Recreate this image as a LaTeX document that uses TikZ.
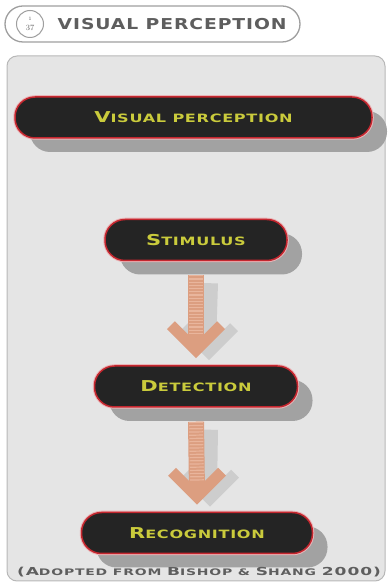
\documentclass[tikz,border=0pt]{standalone}
\usepackage{fontspec}
\usepackage{xcolor}
\usetikzlibrary{positioning,shadows}

\newfontfamily\widefont[FakeStretch=1.25,LetterSpace=6]{DejaVu Sans}
\newfontfamily\stagefont[FakeStretch=1.4,LetterSpace=6]{DejaVu Sans}
\newfontfamily\notefont[FakeStretch=1.55,LetterSpace=9]{DejaVu Sans}

\definecolor{boxred}{HTML}{C4262E}
\definecolor{boxfill}{HTML}{242424}
\definecolor{labelyellow}{HTML}{CACB3C}
\definecolor{panelgray}{HTML}{E5E5E5}
\definecolor{panelline}{HTML}{B8B8B8}
\definecolor{shadowgray}{HTML}{A2A2A2}
\definecolor{arrowpeach}{HTML}{DC9E80}
\definecolor{arrowstripe}{HTML}{E9B59C}
\definecolor{arrowshade}{HTML}{CDCDCD}
\definecolor{titlegray}{HTML}{5E5E5E}

% small caps made by hand: big initial, smaller rest
\newcommand{\stagebig}[1]{{\fontsize{15}{15}\selectfont #1}}
\newcommand{\stagesmall}[1]{{\fontsize{11.5}{15}\selectfont #1}}
\newcommand{\notebig}[1]{{\fontsize{11}{12}\selectfont #1}}
\newcommand{\notesmall}[1]{{\fontsize{9}{12}\selectfont #1}}

\begin{document}
\begin{tikzpicture}[x=1pt, y=1pt, thick,
    stage/.style={draw=boxred, line width=1.5pt, fill=boxfill, rounded corners=20pt,
        minimum height=41pt, text=labelyellow, font=\stagefont\bfseries,
        text height=11pt, text depth=0pt,
        drop shadow={shadow xshift=15pt, shadow yshift=-14pt, fill=shadowgray, opacity=1},
        preaction={draw=boxred!35, line width=3.5pt}},
    shaft/.style={draw=arrowpeach, line width=16pt},
    stripes/.style={draw=arrowstripe, line width=14pt, dash pattern=on 1.2pt off 2pt},
    chevron/.style={draw=arrowpeach, line width=11pt, miter limit=4},
    shaftshade/.style={draw=arrowshade, line width=14pt},
    chevronshade/.style={draw=arrowshade, line width=11pt, miter limit=4}]
    \useasboundingbox (0,0) rectangle (391,587);

    % Header
    \node[draw=gray!75, line width=1.3pt, fill=white, rounded corners=18pt,
        minimum width=295pt, minimum height=36pt] (header) at (152.5,563) {};
    \node[draw=gray!75, line width=1pt, circle, minimum size=27pt, inner sep=0pt,
        text=titlegray, align=center] (pagenum) at (30,563)
        {{\fontsize{5}{5}\selectfont 1}\\[-1.5pt]{\fontsize{8}{8}\selectfont 37}};
    \node[text=titlegray, font=\widefont\bfseries\fontsize{15}{15}\selectfont,
        anchor=west] (title) at (54,563) {VISUAL PERCEPTION};

    % Panel
    \node[draw=panelline, line width=1pt, fill=panelgray, rounded corners=10pt,
        minimum width=378pt, minimum height=525pt] (panel) at (196,268.5) {};

    % Stages
    \node[stage, minimum width=357pt] (vp) at (193.5,469.5) {\stagebig{V}\stagesmall{ISUAL PERCEPTION}};
    \node[stage, minimum width=182pt, below=80pt of vp.south, anchor=north, xshift=2.5pt] (stim) {\stagebig{S}\stagesmall{TIMULUS}};
    \node[stage, minimum width=203pt, below=104pt of stim.south, anchor=north] (det) {\stagebig{D}\stagesmall{ETECTION}};
    \node[stage, minimum width=231pt, below=104pt of det.south, anchor=north, xshift=1pt] (rec) {\stagebig{R}\stagesmall{ECOGNITION}};

    % Arrow shadows
    \draw[shaftshade] ([shift={(15pt,-22pt)}]stim.south) -- ([shift={(13pt,20pt)}]det.north);
    \draw[chevronshade] ([shift={(-12pt,38pt)}]det.north) -- ([shift={(13pt,13pt)}]det.north) -- ([shift={(38pt,38pt)}]det.north);
    \draw[shaftshade] ([shift={(15pt,-22pt)}]det.south) -- ([shift={(13pt,20pt)}]rec.north);
    \draw[chevronshade] ([shift={(-12pt,38pt)}]rec.north) -- ([shift={(13pt,13pt)}]rec.north) -- ([shift={(38pt,38pt)}]rec.north);

    % Arrows
    \draw[shaft] ([yshift=-14pt]stim.south) -- ([yshift=20pt]det.north);
    \draw[stripes] ([yshift=-14pt]stim.south) -- ([yshift=30pt]det.north);
    \draw[chevron] ([shift={(-25pt,40pt)}]det.north) -- ([yshift=15pt]det.north) -- ([shift={(25pt,40pt)}]det.north);
    \draw[shaft] ([yshift=-14pt]det.south) -- ([yshift=20pt]rec.north);
    \draw[stripes] ([yshift=-14pt]det.south) -- ([yshift=30pt]rec.north);
    \draw[chevron] ([shift={(-25pt,40pt)}]rec.north) -- ([yshift=15pt]rec.north) -- ([shift={(25pt,40pt)}]rec.north);

    % Source
    \node[text=titlegray, font=\notefont\bfseries] (source) at (199,15)
        {\notebig{(A}\notesmall{DOPTED FROM }\notebig{B}\notesmall{ISHOP \& }\notebig{S}\notesmall{HANG }\notebig{2000)}};
\end{tikzpicture}
\end{document}
